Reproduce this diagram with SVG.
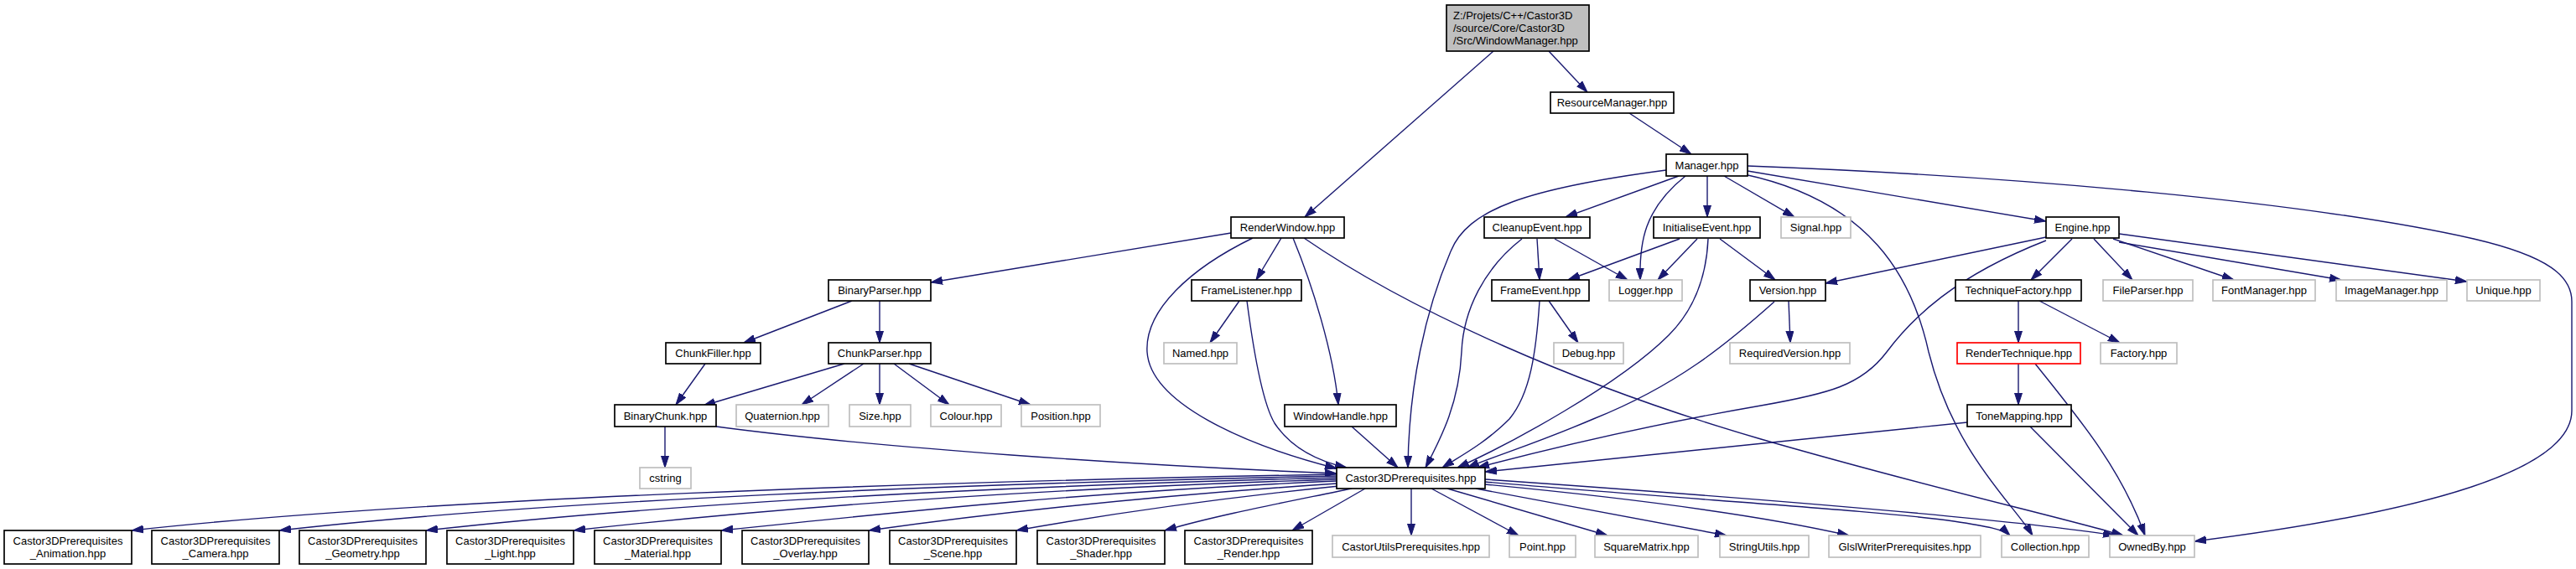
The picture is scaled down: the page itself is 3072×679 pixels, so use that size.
<svg xmlns="http://www.w3.org/2000/svg" width="3072" height="679" viewBox="0 0 3072 679">
<style>
text{font-family:"Liberation Sans",Arial,sans-serif;font-size:13px;fill:#000;text-anchor:middle}
.n rect{fill:#fff;stroke:#000;stroke-width:1.7}
.g rect{fill:#fff;stroke:#bfbfbf;stroke-width:1.7}
.r rect{fill:#fff;stroke:#ff0000;stroke-width:1.7}
.root rect{fill:#bfbfbf;stroke:#000;stroke-width:1.7}
.root text{text-anchor:start}
#edges path{fill:none;stroke:#191970;stroke-width:1.4;marker-end:url(#a)}
</style>
<defs>
<marker id="a" viewBox="0 0 14 10" refX="14" refY="5" markerWidth="14" markerHeight="10" markerUnits="userSpaceOnUse" orient="auto"><path d="M0,0.5 L14,5 L0,9.5 z" fill="#191970" stroke="#191970" stroke-width="1"/></marker>
</defs>
<rect width="3072" height="679" fill="#fff"/>
<g id="edges">
<path d="M1847,61 L1893,110"/>
<path d="M1781,61 L1556,259"/>
<path d="M1943,135 L2017,184"/>
<path d="M2002,210 L1867,259"/>
<path d="M2010,210 C1960,250 1955,290 1956,334"/>
<path d="M2036,210 L2036,259"/>
<path d="M2056,210 L2140,259"/>
<path d="M2084,204 L2440,264"/>
<path d="M1987,203 C1820,225 1750,250 1730,300 C1700,370 1680,460 1679,558"/>
<path d="M2080,208 C2230,240 2280,330 2300,420 C2330,540 2400,600 2424,639"/>
<path d="M2084,198 C2400,210 2750,240 2950,285 C3040,306 3067,330 3067,360 L3067,490 C3067,560 2900,610 2617,646"/>
<path d="M2440,283 L2177,338"/>
<path d="M2471,285 L2422,334"/>
<path d="M2497,285 L2543,334"/>
<path d="M2520,285 L2664,334"/>
<path d="M2527,289 L2792,334"/>
<path d="M2527,279 L2942,336"/>
<path d="M2440,287 C2330,330 2280,380 2250,420 C2220,460 2180,470 2100,484 C1950,510 1830,540 1762,558"/>
<path d="M2133,359 L2135,409"/>
<path d="M2116,360 C2060,410 2000,460 1900,500 C1830,530 1780,545 1750,558"/>
<path d="M2037,285 C2035,330 2020,370 1990,400 C1930,460 1800,530 1738,558"/>
<path d="M1833,285 L1836,334"/>
<path d="M1854,285 L1941,334"/>
<path d="M1815,285 C1770,320 1745,370 1743,420 C1740,480 1720,520 1700,558"/>
<path d="M2003,285 L1870,334"/>
<path d="M2024,285 L1977,334"/>
<path d="M2051,285 L2117,334"/>
<path d="M1847,359 L1882,409"/>
<path d="M1836,359 C1832,420 1825,470 1800,500 C1770,530 1740,545 1720,558"/>
<path d="M1468,278 L1110,337"/>
<path d="M1528,284 L1498,334"/>
<path d="M1494,284 C1420,320 1365,370 1368,420 C1372,480 1480,530 1594,559"/>
<path d="M1542,284 C1565,340 1590,420 1596,483"/>
<path d="M1555,284 C1680,370 1880,460 2100,524 C2300,582 2450,615 2532,639"/>
<path d="M1478,359 L1443,409"/>
<path d="M1487,359 C1495,420 1505,480 1520,505 C1540,535 1570,550 1606,558"/>
<path d="M1612,509 L1667,558"/>
<path d="M1016,359 L887,409"/>
<path d="M1049,359 L1049,409"/>
<path d="M841,434 L806,483"/>
<path d="M1007,434 L839,484"/>
<path d="M1030,434 L956,483"/>
<path d="M1049,434 L1049,483"/>
<path d="M1066,434 L1132,483"/>
<path d="M1084,434 L1229,483"/>
<path d="M793,509 L793,558"/>
<path d="M854,509 C1050,535 1350,555 1594,565"/>
<path d="M2407,359 L2407,409"/>
<path d="M2432,359 L2528,409"/>
<path d="M2407,434 L2407,483"/>
<path d="M2427,434 C2480,500 2530,560 2558,639"/>
<path d="M2346,504 L1771,563"/>
<path d="M2421,509 L2550,639"/>
<path d="M1594,566 C1100,575 500,595 157,633"/>
<path d="M1594,568 C1150,577 650,597 333,633"/>
<path d="M1594,570 C1200,580 800,600 508,633"/>
<path d="M1594,572 C1250,583 950,603 684,633"/>
<path d="M1594,574 C1300,587 1100,608 860,633"/>
<path d="M1594,577 C1400,590 1200,610 1036,633"/>
<path d="M1597,580 C1450,595 1330,612 1212,633"/>
<path d="M1612,583 C1530,600 1450,615 1389,633"/>
<path d="M1628,583 L1541,633"/>
<path d="M1683,583 L1683,639"/>
<path d="M1707,583 L1811,639"/>
<path d="M1726,583 L1917,639"/>
<path d="M1760,583 L2059,639"/>
<path d="M1771,578 C1950,595 2100,615 2205,639"/>
<path d="M1771,575 C2000,595 2250,610 2330,622 C2370,628 2390,632 2397,639"/>
<path d="M1771,572 C2100,595 2400,620 2522,639"/>
</g>
<g id="n_WindowManager" class="root"><rect x="1725" y="6" width="170" height="55"/><text x="1733" y="23">Z:/Projets/C++/Castor3D</text><text x="1733" y="38">/source/Core/Castor3D</text><text x="1733" y="53">/Src/WindowManager.hpp</text></g>
<g id="n_ResourceManager" class="n"><rect x="1849" y="110" width="147" height="25"/><text x="1922.5" y="127">ResourceManager.hpp</text></g>
<g id="n_Manager" class="n"><rect x="1987" y="184" width="97" height="26"/><text x="2035.5" y="202">Manager.hpp</text></g>
<g id="n_RenderWindow" class="n"><rect x="1468" y="259" width="135" height="25"/><text x="1535.5" y="276">RenderWindow.hpp</text></g>
<g id="n_CleanupEvent" class="n"><rect x="1770" y="259" width="126" height="25"/><text x="1833" y="276">CleanupEvent.hpp</text></g>
<g id="n_InitialiseEvent" class="n"><rect x="1972" y="259" width="127" height="25"/><text x="2035.5" y="276">InitialiseEvent.hpp</text></g>
<g id="n_Signal" class="g"><rect x="2124" y="259" width="83" height="25"/><text x="2165.5" y="276">Signal.hpp</text></g>
<g id="n_Engine" class="n"><rect x="2440" y="259" width="87" height="25"/><text x="2483.5" y="276">Engine.hpp</text></g>
<g id="n_BinaryParser" class="n"><rect x="988" y="334" width="122" height="25"/><text x="1049" y="351">BinaryParser.hpp</text></g>
<g id="n_FrameListener" class="n"><rect x="1421" y="334" width="131" height="25"/><text x="1486.5" y="351">FrameListener.hpp</text></g>
<g id="n_FrameEvent" class="n"><rect x="1779" y="334" width="116" height="25"/><text x="1837" y="351">FrameEvent.hpp</text></g>
<g id="n_Logger" class="g"><rect x="1919" y="334" width="87" height="25"/><text x="1962.5" y="351">Logger.hpp</text></g>
<g id="n_Version" class="n"><rect x="2087" y="334" width="90" height="25"/><text x="2132" y="351">Version.hpp</text></g>
<g id="n_TechniqueFactory" class="n"><rect x="2332" y="334" width="150" height="25"/><text x="2407" y="351">TechniqueFactory.hpp</text></g>
<g id="n_FileParser" class="g"><rect x="2508" y="334" width="107" height="25"/><text x="2561.5" y="351">FileParser.hpp</text></g>
<g id="n_FontManager" class="g"><rect x="2639" y="334" width="122" height="25"/><text x="2700" y="351">FontManager.hpp</text></g>
<g id="n_ImageManager" class="g"><rect x="2786" y="334" width="132" height="25"/><text x="2852" y="351">ImageManager.hpp</text></g>
<g id="n_Unique" class="g"><rect x="2942" y="334" width="87" height="25"/><text x="2985.5" y="351">Unique.hpp</text></g>
<g id="n_ChunkFiller" class="n"><rect x="794" y="409" width="113" height="25"/><text x="850.5" y="426">ChunkFiller.hpp</text></g>
<g id="n_ChunkParser" class="n"><rect x="988" y="409" width="122" height="25"/><text x="1049" y="426">ChunkParser.hpp</text></g>
<g id="n_Named" class="g"><rect x="1388" y="409" width="87" height="25"/><text x="1431.5" y="426">Named.hpp</text></g>
<g id="n_Debug" class="g"><rect x="1853" y="409" width="83" height="25"/><text x="1894.5" y="426">Debug.hpp</text></g>
<g id="n_RequiredVersion" class="g"><rect x="2063" y="409" width="143" height="25"/><text x="2134.5" y="426">RequiredVersion.hpp</text></g>
<g id="n_RenderTechnique" class="r"><rect x="2334" y="409" width="147" height="25"/><text x="2407.5" y="426">RenderTechnique.hpp</text></g>
<g id="n_Factory" class="g"><rect x="2505" y="409" width="91" height="25"/><text x="2550.5" y="426">Factory.hpp</text></g>
<g id="n_BinaryChunk" class="n"><rect x="733" y="483" width="121" height="26"/><text x="793.5" y="501">BinaryChunk.hpp</text></g>
<g id="n_Quaternion" class="g"><rect x="878" y="483" width="110" height="26"/><text x="933" y="501">Quaternion.hpp</text></g>
<g id="n_Size" class="g"><rect x="1013" y="483" width="73" height="26"/><text x="1049.5" y="501">Size.hpp</text></g>
<g id="n_Colour" class="g"><rect x="1110" y="483" width="84" height="26"/><text x="1152" y="501">Colour.hpp</text></g>
<g id="n_Position" class="g"><rect x="1218" y="483" width="94" height="26"/><text x="1265" y="501">Position.hpp</text></g>
<g id="n_WindowHandle" class="n"><rect x="1532" y="483" width="133" height="26"/><text x="1598.5" y="501">WindowHandle.hpp</text></g>
<g id="n_ToneMapping" class="n"><rect x="2346" y="483" width="124" height="26"/><text x="2408" y="501">ToneMapping.hpp</text></g>
<g id="n_cstring" class="g"><rect x="763" y="558" width="61" height="25"/><text x="793.5" y="575">cstring</text></g>
<g id="n_Castor3DPrerequisites" class="n"><rect x="1594" y="558" width="177" height="25"/><text x="1682.5" y="575">Castor3DPrerequisites.hpp</text></g>
<g id="n_Animation" class="n"><rect x="5" y="633" width="152" height="40"/><text x="81" y="650">Castor3DPrerequisites</text><text x="81" y="665">_Animation.hpp</text></g>
<g id="n_Camera" class="n"><rect x="181" y="633" width="152" height="40"/><text x="257" y="650">Castor3DPrerequisites</text><text x="257" y="665">_Camera.hpp</text></g>
<g id="n_Geometry" class="n"><rect x="357" y="633" width="151" height="40"/><text x="432.5" y="650">Castor3DPrerequisites</text><text x="432.5" y="665">_Geometry.hpp</text></g>
<g id="n_Light" class="n"><rect x="533" y="633" width="151" height="40"/><text x="608.5" y="650">Castor3DPrerequisites</text><text x="608.5" y="665">_Light.hpp</text></g>
<g id="n_Material" class="n"><rect x="709" y="633" width="151" height="40"/><text x="784.5" y="650">Castor3DPrerequisites</text><text x="784.5" y="665">_Material.hpp</text></g>
<g id="n_Overlay" class="n"><rect x="885" y="633" width="151" height="40"/><text x="960.5" y="650">Castor3DPrerequisites</text><text x="960.5" y="665">_Overlay.hpp</text></g>
<g id="n_Scene" class="n"><rect x="1061" y="633" width="151" height="40"/><text x="1136.5" y="650">Castor3DPrerequisites</text><text x="1136.5" y="665">_Scene.hpp</text></g>
<g id="n_Shader" class="n"><rect x="1237" y="633" width="152" height="40"/><text x="1313" y="650">Castor3DPrerequisites</text><text x="1313" y="665">_Shader.hpp</text></g>
<g id="n_Render" class="n"><rect x="1413" y="633" width="152" height="40"/><text x="1489" y="650">Castor3DPrerequisites</text><text x="1489" y="665">_Render.hpp</text></g>
<g id="n_CastorUtilsPrerequisites" class="g"><rect x="1589" y="639" width="187" height="26"/><text x="1682.5" y="657">CastorUtilsPrerequisites.hpp</text></g>
<g id="n_Point" class="g"><rect x="1800" y="639" width="79" height="26"/><text x="1839.5" y="657">Point.hpp</text></g>
<g id="n_SquareMatrix" class="g"><rect x="1902" y="639" width="123" height="26"/><text x="1963.5" y="657">SquareMatrix.hpp</text></g>
<g id="n_StringUtils" class="g"><rect x="2051" y="639" width="106" height="26"/><text x="2104" y="657">StringUtils.hpp</text></g>
<g id="n_GlslWriterPrerequisites" class="g"><rect x="2181" y="639" width="181" height="26"/><text x="2271.5" y="657">GlslWriterPrerequisites.hpp</text></g>
<g id="n_Collection" class="g"><rect x="2387" y="639" width="104" height="26"/><text x="2439" y="657">Collection.hpp</text></g>
<g id="n_OwnedBy" class="g"><rect x="2516" y="639" width="101" height="26"/><text x="2566.5" y="657">OwnedBy.hpp</text></g>
</svg>
